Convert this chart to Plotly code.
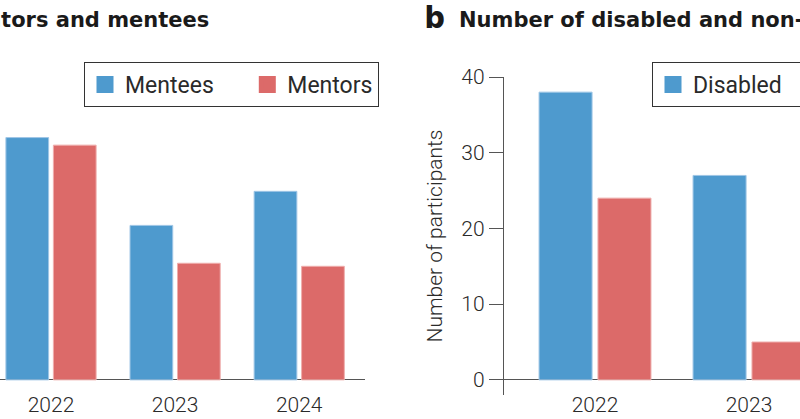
import plotly.graph_objects as go

W, H = 800, 419

# ---- data ----
years_a = ["2022", "2023", "2024"]
mentees = [32, 20.4, 24.9]
mentors = [31, 15.4, 15]

years_b = ["2022", "2023"]
disabled = [38, 27]
non_disabled = [24, 5]

BLUE = "#4E9ACE"
RED = "#DC6A69"
BLUE_EDGE = "#9fc6e6"
RED_EDGE = "#efaead"
TXT = "#2a2a2a"
FONT = "Roboto"
TITLE_FONT = "DejaVu Sans"
PAD = "\u00a0" * 5


def px(x):
    return x / W


def py(y):
    return 1 - y / H


fig = go.Figure()

# panel a
fig.add_trace(go.Bar(x=years_a, y=mentees, name="Mentees", marker=dict(color=BLUE, line=dict(color=BLUE_EDGE, width=1)),
                     offsetgroup="m1", showlegend=False, xaxis="x", yaxis="y"))
fig.add_trace(go.Bar(x=years_a, y=mentors, name="Mentors", marker=dict(color=RED, line=dict(color=RED_EDGE, width=1)),
                     offsetgroup="m2", showlegend=False, xaxis="x", yaxis="y"))
# legend proxies (bigger swatches)
fig.add_trace(go.Bar(x=[years_a[0]], y=[None], name="Mentees" + PAD, marker=dict(color=BLUE, line=dict(color=BLUE, width=5)),
                     offsetgroup="m1", legend="legend", xaxis="x", yaxis="y"))
fig.add_trace(go.Bar(x=[years_a[0]], y=[None], name="Mentors", marker=dict(color=RED, line=dict(color=RED, width=5)),
                     offsetgroup="m2", legend="legend", xaxis="x", yaxis="y"))

# panel b
fig.add_trace(go.Bar(x=years_b, y=disabled, name="Disabled", marker=dict(color=BLUE, line=dict(color=BLUE_EDGE, width=1)),
                     offsetgroup="d1", showlegend=False, xaxis="x2", yaxis="y2"))
fig.add_trace(go.Bar(x=years_b, y=non_disabled, name="Non-disabled", marker=dict(color=RED, line=dict(color=RED_EDGE, width=1)),
                     offsetgroup="d2", showlegend=False, xaxis="x2", yaxis="y2"))
fig.add_trace(go.Bar(x=[years_b[0]], y=[None], name="Disabled", marker=dict(color=BLUE, line=dict(color=BLUE, width=5)),
                     offsetgroup="d1", legend="legend2", xaxis="x2", yaxis="y2"))

ydom = [py(395), py(77)]

fig.update_layout(
    width=W, height=H,
    margin=dict(l=0, r=0, t=0, b=0, autoexpand=False),
    paper_bgcolor="white", plot_bgcolor="white",
    barmode="group", bargap=0.235, bargroupgap=0.1,
    font=dict(family=FONT, color=TXT, size=20),
    xaxis=dict(domain=[0, px(365)], type="category", range=[-0.411, 2.53], automargin=False,
               showline=False, showgrid=False, zeroline=False, ticks="", ticklabelstandoff=-5,
               tickfont=dict(size=21, family=FONT, weight=300, color=TXT)),
    yaxis=dict(domain=ydom, range=[-2, 40], showticklabels=False, ticks="", automargin=False,
               showgrid=False, showline=False, zeroline=True, zerolinecolor="#555", zerolinewidth=1.3),
    xaxis2=dict(domain=[px(504), 1], type="category", range=[-0.591, 1.331], anchor="y2", automargin=False,
                showline=False, showgrid=False, zeroline=False, ticks="", ticklabelstandoff=-5,
                tickfont=dict(size=21, family=FONT, weight=300, color=TXT)),
    yaxis2=dict(domain=ydom, range=[-2, 40], anchor="x2", tickvals=[0, 10, 20, 30, 40], automargin=False,
                ticks="outside", ticklen=14, tickwidth=1.3, tickcolor="#555",
                showline=True, linecolor="#555", linewidth=1.3,
                showgrid=False, zeroline=True, zerolinecolor="#555", zerolinewidth=1.3,
                tickfont=dict(size=21, family=FONT, weight=300, color=TXT),
                title=dict(text="Number of participants", standoff=13,
                           font=dict(size=21, family=FONT, weight=300, color=TXT))),
    legend=dict(orientation="h", x=px(84), y=py(62), xanchor="left", yanchor="top",
                bordercolor="#333", borderwidth=1, bgcolor="white",
                font=dict(size=23, family=FONT, color=TXT), itemclick=False),
    legend2=dict(orientation="h", x=px(652), y=py(62), xanchor="left", yanchor="top",
                 bordercolor="#333", borderwidth=1, bgcolor="white",
                 font=dict(size=23, family=FONT, color=TXT), entrywidth=200, itemclick=False),
    annotations=[
        dict(text="<b>a  Number of mentors and mentees</b>", xref="paper", yref="paper", x=px(211), y=py(20),
             xanchor="right", yanchor="middle", showarrow=False,
             font=dict(size=21, family=TITLE_FONT, color="#1a1a1a")),
        dict(text="b", xref="paper", yref="paper", x=px(423), y=py(17),
             xanchor="left", yanchor="middle", showarrow=False,
             font=dict(size=31, family="Inter", weight=800, color="#1a1a1a")),
        dict(text="<b>Number of disabled and non-disabled participants</b>", xref="paper", yref="paper", x=px(457), y=py(20),
             xanchor="left", yanchor="middle", showarrow=False,
             font=dict(size=21, family=TITLE_FONT, color="#1a1a1a")),
    ],
)

fig.write_html("out.html", config={"displayModeBar": False},
               post_script="document.body.style.margin='0';document.body.style.padding='0';document.body.style.overflow='hidden';")
